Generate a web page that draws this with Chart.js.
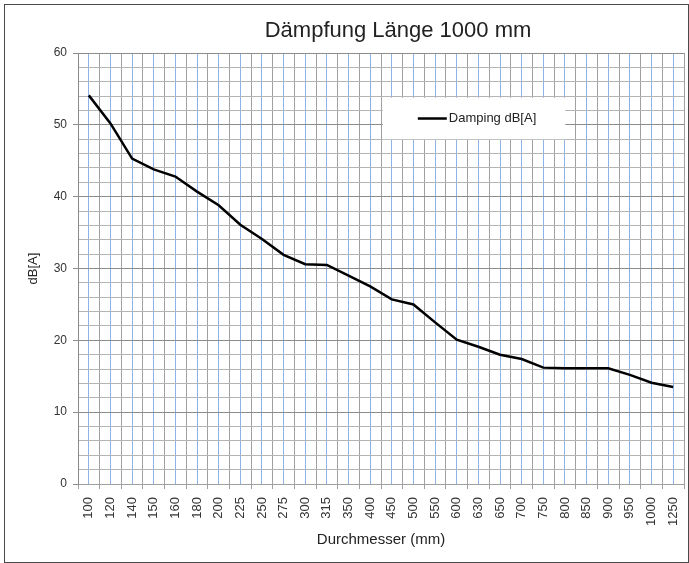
<!DOCTYPE html>
<html>
<head>
<meta charset="utf-8">
<script src="https://cdn.jsdelivr.net/npm/chart.js@4"></script>
<style>
	body { margin: 0; background: #fff; }
	#wrap { width: 689px; height: 563px; }
</style>
</head>
<body>
<div id="wrap"><canvas id="chart" width="689" height="563"></canvas></div>
<script>
const diameters = ["100", "120", "140", "150", "160", "180", "200", "225", "250", "275", "300", "315", "350", "400",
	"450", "500", "550", "600", "630", "650", "700", "750", "800", "850", "900", "950", "1000", "1250"];
const damping = [54.1, 50.2, 45.3, 43.8, 42.8, 40.7, 38.8, 36.1, 34.1, 31.9, 30.6, 30.5, 29.0, 27.5,
	25.7, 25.0, 22.5, 20.1, 19.1, 18.0, 17.4, 16.2, 16.1, 16.1, 16.1, 15.2, 14.1, 13.5];
const yTicks = [0, 10, 20, 30, 40, 50, 60];

const chartTitle = "Dämpfung Länge 1000 mm";
const seriesName = "Damping dB[A]";
const font = "'Liberation Sans', Arial, sans-serif";

// frame, title and the legend box that sits inside the plot
const decor = {
	id: "decor",
	beforeDraw(chart) {
		const ctx = chart.ctx;
		ctx.save();
		ctx.fillStyle = "#fff";
		ctx.fillRect(0, 0, chart.width, chart.height);
		ctx.strokeStyle = "#4a4a4a";
		ctx.lineWidth = 1;
		ctx.strokeRect(4.5, 4.5, chart.width - 5, chart.height - 5);
		ctx.fillStyle = "#222";
		ctx.font = "22px " + font;
		ctx.textAlign = "center";
		ctx.textBaseline = "middle";
		ctx.fillText(chartTitle, 398, 31);
		ctx.restore();
	},
	afterDatasetsDraw(chart) {
		const ctx = chart.ctx;
		const a = chart.chartArea;
		const w = a.right - a.left;
		const h = a.bottom - a.top;
		const x0 = a.left + w * 0.503;
		const x1 = a.left + w * 0.804;
		const y0 = a.top + h * 0.104;
		const y1 = a.top + h * 0.2;
		const ym = (y0 + y1) / 2;
		ctx.save();
		ctx.fillStyle = "#fff";
		ctx.fillRect(x0, y0, x1 - x0, y1 - y0);
		ctx.strokeStyle = "#000";
		ctx.lineWidth = 2.5;
		ctx.beginPath();
		ctx.moveTo(x0 + 35, ym);
		ctx.lineTo(x0 + 64, ym);
		ctx.stroke();
		ctx.fillStyle = "#222";
		ctx.font = "13px " + font;
		ctx.textAlign = "left";
		ctx.textBaseline = "middle";
		ctx.fillText(seriesName, x0 + 66, ym);
		ctx.restore();
	},
};

new Chart(document.getElementById("chart"), {
	type: "line",
	data: {
		labels: diameters,
		datasets: [
			{
				label: seriesName,
				data: damping,
				borderColor: "#000",
				borderWidth: 2.5,
				pointRadius: 0,
				tension: 0,
				fill: false,
				xAxisID: "x",
			},
		],
	},
	options: {
		responsive: false,
		animation: false,
		layout: {
			padding: { left: 10, right: 5, top: 53, bottom: 14 },
		},
		plugins: {
			legend: { display: false },
			title: { display: false },
			tooltip: { enabled: false },
		},
		scales: {
			x: {
				type: "category",
				offset: true,
				grid: {
					offset: true,
					color: "#a0a0a0",
					tickColor: "#a0a0a0",
					tickLength: 5,
				},
				border: { color: "#a0a0a0" },
				ticks: {
					autoSkip: false,
					minRotation: 90,
					maxRotation: 90,
					color: "#333",
					font: { family: font, size: 13 },
					padding: 8,
				},
				title: {
					display: true,
					text: "Durchmesser (mm)",
					color: "#222",
					font: { family: font, size: 15 },
					padding: { top: 2, bottom: 0 },
				},
				afterFit: (scale) => {
					scale.height = 65;
					scale.paddingLeft = 0;
					scale.paddingRight = 0;
				},
			},
			x2: {
				type: "category",
				position: "bottom",
				offset: true,
				grid: {
					offset: false,
					color: "#8db3e6",
					drawTicks: false,
				},
				border: { display: false },
				ticks: { display: false },
				afterFit: (scale) => {
					scale.height = 0;
					scale.paddingLeft = 0;
					scale.paddingRight = 0;
				},
			},
			y: {
				min: 0,
				max: 60,
				afterBuildTicks: (scale) => {
					const t = [];
					for (let v = 0; v <= 60; v += 2) t.push({ value: v });
					scale.ticks = t;
				},
				grid: {
					color: (c) => (c.tick && c.tick.value % 10 === 0 ? "#8c8c8c" : "#b4b4b4"),
					tickColor: (c) => (c.tick && c.tick.value % 10 === 0 ? "#8c8c8c" : "rgba(0,0,0,0)"),
					tickLength: 5,
				},
				border: { color: "#8c8c8c" },
				ticks: {
					autoSkip: false,
					color: "#333",
					font: { family: font, size: 12 },
					padding: 6,
					callback: (v) => (yTicks.includes(v) ? v : ""),
				},
				title: {
					display: true,
					text: "dB[A]",
					color: "#222",
					font: { family: font, size: 13 },
					padding: { top: 16, bottom: 0 },
				},
				afterFit: (scale) => {
					scale.width = 68;
				},
			},
		},
	},
	plugins: [decor],
});
</script>
</body>
</html>
